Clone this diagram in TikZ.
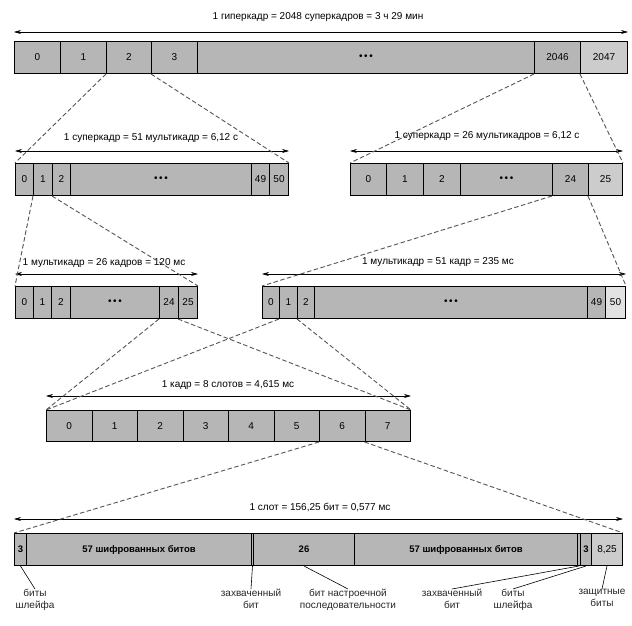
\documentclass[tikz,border=0pt]{standalone}
\usepackage{fontspec}
\setmainfont{Liberation Sans}
\usetikzlibrary{arrows.meta}
\definecolor{cellgray}{RGB}{182,182,182}
\definecolor{cellpale}{RGB}{204,204,204}
\definecolor{cellwhite}{RGB}{226,226,226}
\definecolor{zoomgray}{RGB}{85,85,85}

\begin{document}
\begin{tikzpicture}[x=1pt,y=-1pt,
  cell/.style={draw, line width=1pt, fill=cellgray, anchor=north west, inner sep=0pt,
    minimum height=32, font=\fontsize{10}{12}\selectfont},
  span/.style={{Stealth[length=7pt,width=4pt]}-{Stealth[length=7pt,width=4pt]}, line width=0.6pt},
  zoomline/.style={draw=zoomgray, dash pattern=on 4.5pt off 2.5pt, line width=0.9pt},
  caption/.style={font=\fontsize{10}{12}\selectfont, inner sep=1pt},
  pointer/.style={line width=0.6pt},
  note/.style={font=\fontsize{10}{12}\selectfont, align=center, anchor=north, inner sep=0pt, text=black!85}]
\useasboundingbox (0,0) rectangle (632,626);

% 1 hyperframe
\node[cell, minimum width=46] (h0) at (14,41) {0};
\node[cell, minimum width=46] (h1) at (60,41) {1};
\node[cell, minimum width=45] (h2) at (106,41) {2};
\node[cell, minimum width=46] (h3) at (151,41) {3};
\node[cell, minimum width=337] (hd) at (197,41) {\textbullet\,\textbullet\,\textbullet};
\node[cell, minimum width=46] (h2046) at (534,41) {2046};
\node[cell, minimum width=47, fill=cellpale] (h2047) at (580,41) {2047};
\draw[span] ([yshift=9pt]h0.north west) -- ([yshift=9pt]h2047.north east);
\node[caption] (hyper) at (318,17) {1 гиперкадр = 2048 суперкадров = 3 ч 29 мин};

% superframe of 51-multiframes
\node[cell, minimum width=18] (sa0) at (15,163) {0};
\node[cell, minimum width=19] (sa1) at (33,163) {1};
\node[cell, minimum width=18] (sa2) at (52,163) {2};
\node[cell, minimum width=181] (sad) at (70,163) {\textbullet\,\textbullet\,\textbullet};
\node[cell, minimum width=18] (sa49) at (251,163) {49};
\node[cell, minimum width=19] (sa50) at (269,163) {50};
\draw[span] ([yshift=12pt]sa0.north west) -- ([yshift=12pt]sa50.north east);
\node[caption] (supera) at (151,138) {1 суперкадр = 51 мультикадр = 6,12 с};

% superframe of 26-multiframes
\node[cell, minimum width=36] (sb0) at (350,163) {0};
\node[cell, minimum width=37] (sb1) at (386,163) {1};
\node[cell, minimum width=37] (sb2) at (423,163) {2};
\node[cell, minimum width=92] (sbd) at (460,163) {\textbullet\,\textbullet\,\textbullet};
\node[cell, minimum width=36] (sb24) at (552,163) {24};
\node[cell, minimum width=34, fill=cellpale] (sb25) at (588,163) {25};
\draw[span] ([yshift=12pt]sb0.north west) -- ([yshift=12pt]sb25.north east);
\node[caption] (superb) at (487,136) {1 суперкадр = 26 мультикадров = 6,12 с};

% 26-multiframe
\node[cell, minimum width=18] (ma0) at (15,286) {0};
\node[cell, minimum width=18] (ma1) at (33,286) {1};
\node[cell, minimum width=19] (ma2) at (51,286) {2};
\node[cell, minimum width=89] (mad) at (70,286) {\textbullet\,\textbullet\,\textbullet};
\node[cell, minimum width=19] (ma24) at (159,286) {24};
\node[cell, minimum width=19] (ma25) at (178,286) {25};
\draw[span] ([yshift=12pt]ma0.north west) -- ([yshift=12pt]ma25.north east);
\node[caption] (multia) at (104,263) {1 мультикадр = 26 кадров = 120 мс};

% 51-multiframe
\node[cell, minimum width=17] (mb0) at (262,286) {0};
\node[cell, minimum width=18] (mb1) at (279,286) {1};
\node[cell, minimum width=17] (mb2) at (297,286) {2};
\node[cell, minimum width=273] (mbd) at (314,286) {\textbullet\,\textbullet\,\textbullet};
\node[cell, minimum width=18] (mb49) at (587,286) {49};
\node[cell, minimum width=20, fill=cellwhite] (mb50) at (605,286) {50};
\draw[span] ([yshift=12pt]mb0.north west) -- ([yshift=12pt]mb50.north east);
\node[caption] (multib) at (438,262) {1 мультикадр = 51 кадр = 235 мс};

% frame of 8 slots
\node[cell, minimum width=45.5, minimum height=31] (f0) at (46,410) {0};
\node[cell, minimum width=45.5, minimum height=31] (f1) at (91.5,410) {1};
\node[cell, minimum width=45.5, minimum height=31] (f2) at (137,410) {2};
\node[cell, minimum width=45.5, minimum height=31] (f3) at (182.5,410) {3};
\node[cell, minimum width=45.5, minimum height=31] (f4) at (228,410) {4};
\node[cell, minimum width=45.5, minimum height=31] (f5) at (273.5,410) {5};
\node[cell, minimum width=45.5, minimum height=31] (f6) at (319,410) {6};
\node[cell, minimum width=45.5, minimum height=31] (f7) at (364.5,410) {7};
\draw[span] ([yshift=14pt]f0.north west) -- ([yshift=14pt]f7.north east);
\node[caption] (frame) at (228,385) {1 кадр = 8 слотов = 4,615 мс};

% slot
\node[cell, minimum width=12, font=\bfseries\fontsize{9.5}{11}\selectfont] (s3a) at (14,533) {3};
\node[cell, minimum width=225, font=\bfseries\fontsize{9.5}{11}\selectfont] (s57a) at (26,533) {57 шифрованных битов};
\node[cell, minimum width=2] (s1a) at (251,533) {};
\node[cell, minimum width=101, font=\bfseries\fontsize{9.5}{11}\selectfont] (s26) at (253,533) {26};
\node[cell, minimum width=223, font=\bfseries\fontsize{9.5}{11}\selectfont] (s57b) at (354,533) {57 шифрованных битов};
\node[cell, minimum width=3] (s1b) at (577,533) {};
\node[cell, minimum width=11, font=\bfseries\fontsize{9.5}{11}\selectfont] (s3b) at (580,533) {3};
\node[cell, minimum width=31, fill=cellpale] (sg) at (591,533) {8,25};
\draw[span] ([yshift=14pt]s3a.north west) -- ([yshift=14pt]sg.north east);
\node[caption] (slot) at (320,507) {1 слот = 156,25 бит = 0,577 мс};

% zoom lines
\draw[zoomline] (h2.south west) -- (sa0.north west);
\draw[zoomline] (h3.south west) -- (sa50.north east);
\draw[zoomline] (h2046.south west) -- (sb0.north west);
\draw[zoomline] (h2047.south west) -- (sb25.north east);
\draw[zoomline] (sa1.south west) -- (ma0.north west);
\draw[zoomline] (sa2.south west) -- (ma25.north east);
\draw[zoomline] (sb24.south west) -- (mb0.north west);
\draw[zoomline] (sb25.south west) -- (mb50.north east);
\draw[zoomline] (ma24.south west) -- (f0.north west);
\draw[zoomline] (ma25.south west) -- (f7.north east);
\draw[zoomline] (mb1.south west) -- (f0.north west);
\draw[zoomline] (mb2.south west) -- (f7.north east);
\draw[zoomline] (f6.south west) -- (s3a.north west);
\draw[zoomline] (f7.south west) -- (sg.north east);

% bit names
\node[note] (loopa) at (35,589) {биты\\шлейфа};
\node[note] (steala) at (251,589) {захваченный\\бит};
\node[note] (train) at (348,589) {бит настроечной\\последовательности};
\node[note] (stealb) at (452,589) {захваченный\\бит};
\node[note] (loopb) at (513,589) {биты\\шлейфа};
\node[note] (guard) at (602,589) {защитные\\биты};
\draw[pointer] (s3a.south) -- (loopa.north);
\draw[pointer] (s1a.south) -- (steala.north);
\draw[pointer] (s26.south) -- (train.north);
\draw[pointer] (s1b.south) -- (stealb.north);
\draw[pointer] (s3b.south) -- (loopb.north);
\draw[pointer] (sg.south) -- (guard.north);
\end{tikzpicture}
\end{document}
